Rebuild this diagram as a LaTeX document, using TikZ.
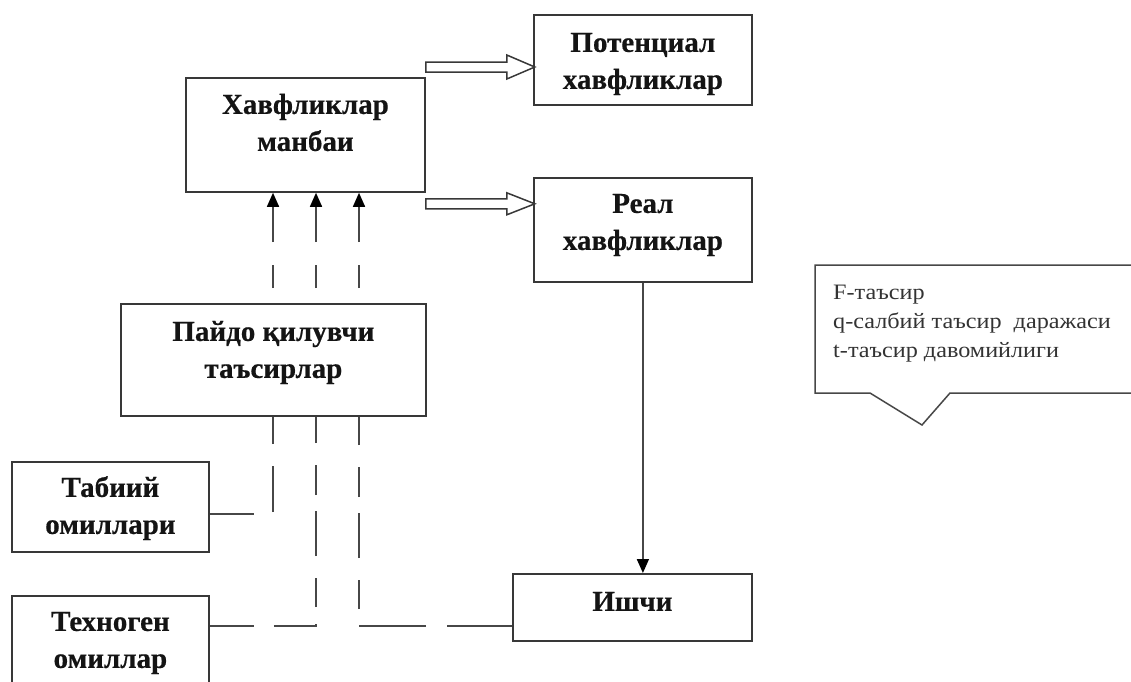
\documentclass[tikz,border=0pt]{standalone}
\usepackage{fontspec}
\setmainfont{Liberation Serif}[BoldFeatures={FakeBold=0.5}]
\newfontfamily\notefamily{Liberation Serif}[FakeStretch=1.1]
\usetikzlibrary{arrows.meta,calc}
\newcommand{\twolines}[2]{\begin{tabular}[b]{@{}c@{}}#1\\#2\end{tabular}}
\begin{document}
\begin{tikzpicture}[x=1pt,y=-1pt,
  box/.style={draw=black!78, line width=1.8pt, fill=white, inner sep=0pt, anchor=north west,
    font=\fontsize{29}{37}\selectfont\bfseries, text=black!92, text depth=0pt},
  link/.style={draw=black!72, line width=1.6pt},
  tipup/.style={-{Triangle[width=12pt,length=14pt,color=black,fill=black]}},
  hollow/.style={draw=black!78, line width=1.5pt, fill=white, line join=miter},
  notefont/.style={font=\notefamily\fontsize{22}{29}\selectfont, text=black!80},
]
\useasboundingbox (0,0) rectangle (1131,681);
\clip (0,0) rectangle (1131,681);

% boxes
\node[box, minimum width=239pt, minimum height=114pt, text height=32pt] (hm) at (185,77) {\twolines{Хавфликлар}{манбаи}};
\node[box, minimum width=218pt, minimum height=90pt, text height=58pt] (pot) at (533,14) {\twolines{Потенциал}{хавфликлар}};
\node[box, minimum width=218pt, minimum height=104pt, text height=40pt] (real) at (533,177) {\twolines{Реал}{хавфликлар}};
\node[box, minimum width=305pt, minimum height=112pt, text height=36pt] (pq) at (120,303) {\twolines{Пайдо қилувчи}{таъсирлар}};
\node[box, minimum width=197pt, minimum height=90pt, text height=54pt] (tab) at (11,461) {\twolines{Табиий}{омиллари}};
\node[box, minimum width=197pt, minimum height=95pt, text height=49pt] (tech) at (11,595) {\twolines{Техноген}{омиллар}};
\node[box, minimum width=239pt, minimum height=67pt, text height=7pt] (wk) at (512,573) {Ишчи};

% helper coordinates for the three parallel lines
\coordinate (xa) at (273,0);
\coordinate (xb) at (316,0);
\coordinate (xc) at (359,0);
\coordinate (ly) at (0,626);

% hollow block arrows
\draw[hollow] ([yshift=15pt]hm.north east) -- ++(81,0) -- ++(0,-7) -- ++(28,12) -- ++(-28,12) -- ++(0,-7) -- ++(-81,0) -- cycle;
\draw[hollow] ([yshift=-6pt]hm.south east) -- ++(81,0) -- ++(0,-6) -- ++(28,11) -- ++(-28,11) -- ++(0,-6) -- ++(-81,0) -- cycle;

% dashed arrows up into the source box
\draw[link, tipup, dash pattern=on 0pt off 15pt on 23pt off 23pt on 90pt off 0pt] (xa |- pq.north) -- (xa |- hm.south);
\draw[link, tipup, dash pattern=on 0pt off 15pt on 23pt off 23pt on 90pt off 0pt] (xb |- pq.north) -- (xb |- hm.south);
\draw[link, tipup, dash pattern=on 0pt off 15pt on 23pt off 23pt on 90pt off 0pt] (xc |- pq.north) -- (xc |- hm.south);

% dashed lines from the factor boxes and the worker
\draw[link, dash pattern=on 44pt off 21pt on 46pt off 22pt on 30pt off 10pt] ([yshift=-7pt]tab.east) -| (xa |- pq.south);
\draw[link, dash pattern=on 44pt off 20pt on 44pt off 17pt on 29pt off 22pt on 45pt off 16pt on 30pt off 22pt on 30pt off 10pt] (tech.east |- ly) -| (xb |- pq.south);
\draw[link, dash pattern=on 65pt off 21pt on 67pt off 17pt on 29pt off 22pt on 45pt off 16pt on 30pt off 22pt on 30pt off 10pt] (wk.west |- ly) -| (xc |- pq.south);

% real hazards -> worker
\draw[link, tipup] (real.south) -- (real.south |- wk.north);

% callout
\draw[draw=black!72, line width=1.5pt, fill=white] (1145,265) -- (815,265) -- (815,393) -- (870,393) -- (922,425) -- (950,393) -- (1145,393);
\node[notefont, anchor=base west, inner sep=0pt] (note) at (833,299)
  {\begin{tabular}[t]{@{}l@{}}F-таъсир\\q-салбий таъсир~ даражаси\\t-таъсир давомийлиги\end{tabular}};
\end{tikzpicture}
\end{document}
